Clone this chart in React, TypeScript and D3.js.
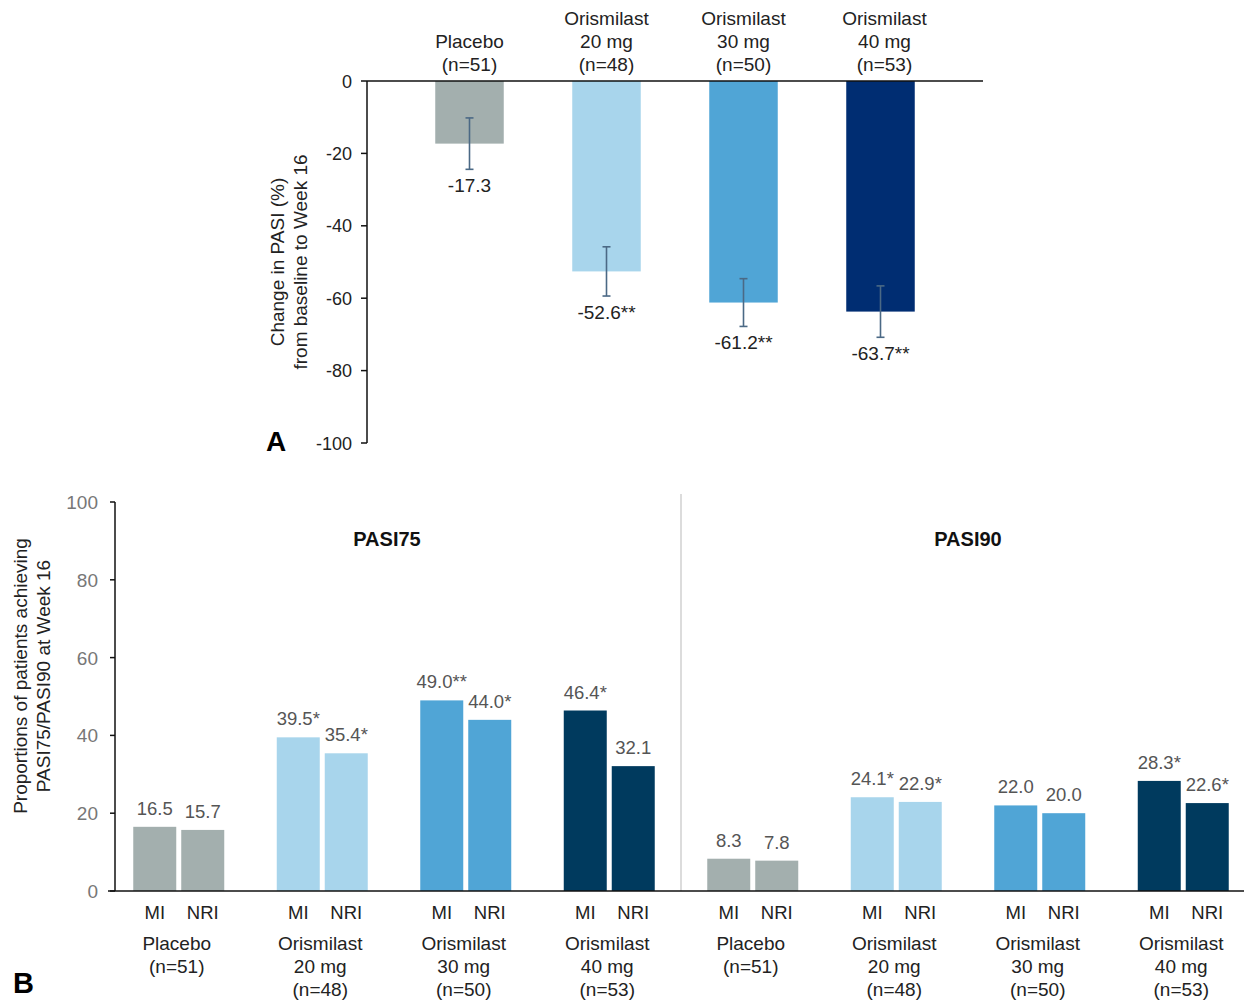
import React from "react";
import * as d3 from "d3";

// ---------- Data ----------
const arms = ["Placebo", "Orismilast 20 mg", "Orismilast 30 mg", "Orismilast 40 mg"];
const armLines = [
  ["Placebo", "(n=51)"],
  ["Orismilast", "20 mg", "(n=48)"],
  ["Orismilast", "30 mg", "(n=50)"],
  ["Orismilast", "40 mg", "(n=53)"],
];
const colorsA = ["#A3AFAE", "#A8D5EC", "#50A5D6", "#002D72"];
const colorsB = ["#A3AFAE", "#A8D5EC", "#50A5D6", "#003A5E"];

// Panel A: % change in PASI
const pasiChange = [-17.3, -52.6, -61.2, -63.7];
const pasiChangeErr = [7.1, 6.8, 6.6, 7.1];
const pasiChangeLabels = ["-17.3", "-52.6**", "-61.2**", "-63.7**"];
const ticksA = [0, -20, -40, -60, -80, -100];

// Panel B: PASI75 / PASI90 responders
const panels = ["PASI75", "PASI90"];
const methods = ["MI", "NRI"];
const pasi75MI = [16.5, 39.5, 49.0, 46.4];
const pasi75NRI = [15.7, 35.4, 44.0, 32.1];
const pasi90MI = [8.3, 24.1, 22.0, 28.3];
const pasi90NRI = [7.8, 22.9, 20.0, 22.6];
const pasi75MILabels = ["16.5", "39.5*", "49.0**", "46.4*"];
const pasi75NRILabels = ["15.7", "35.4*", "44.0*", "32.1"];
const pasi90MILabels = ["8.3", "24.1*", "22.0", "28.3*"];
const pasi90NRILabels = ["7.8", "22.9*", "20.0", "22.6*"];
const ticksB = [0, 20, 40, 60, 80, 100];

const FONT = "'Liberation Sans', Arial, 'DejaVu Sans', sans-serif";

export default function App() {
  // ----- Panel A scales -----
  const axisXA = 367;
  const yA = d3.scaleLinear().domain([0, -100]).range([81, 443]);
  const xA = d3
    .scaleBand<string>()
    .domain(arms)
    .range([401, 949])
    .paddingInner(0.5)
    .paddingOuter(0.25);

  // ----- Panel B scales -----
  const axisXB = 115;
  const yB = d3.scaleLinear().domain([0, 100]).range([891, 502]);
  const xPanel = d3.scaleBand<string>().domain(panels).range([107, 1255]).padding(0);
  const xArm = d3.scaleBand<string>().domain(arms).range([0, xPanel.bandwidth()]).padding(0);
  const xMethod = d3
    .scaleBand<string>()
    .domain(methods)
    .range([0, xArm.bandwidth()])
    .paddingInner(0.104)
    .paddingOuter(0.547);

  const panelData = [
    { key: "PASI75", vals: [pasi75MI, pasi75NRI], labels: [pasi75MILabels, pasi75NRILabels] },
    { key: "PASI90", vals: [pasi90MI, pasi90NRI], labels: [pasi90MILabels, pasi90NRILabels] },
  ];

  return (
    <svg
      width={1244}
      height={1000}
      style={{ position: "absolute", left: 0, top: 0, background: "#fff" }}
      fontFamily={FONT}
    >
      <rect x={0} y={0} width={1244} height={1000} fill="#fff" />

      {/* ================= PANEL A ================= */}
      {arms.map((a, i) => {
        const lines = armLines[i];
        const cx = (xA(a) as number) + xA.bandwidth() / 2 + (i === 3 ? 4 : 0);
        const lastBaseline = 71;
        return (
          <text key={"ta" + a} x={cx} textAnchor="middle" fontSize={19} fill="#222">
            {lines.map((l, j) => (
              <tspan key={j} x={cx} y={lastBaseline - (lines.length - 1 - j) * 23}>
                {l}
              </tspan>
            ))}
          </text>
        );
      })}

      {arms.map((a, i) => (
        <rect
          key={"ba" + a}
          x={xA(a)}
          y={yA(0)}
          width={xA.bandwidth()}
          height={yA(pasiChange[i]) - yA(0)}
          fill={colorsA[i]}
        />
      ))}

      {arms.map((a, i) => {
        const cx = (xA(a) as number) + xA.bandwidth() / 2;
        const top = yA(pasiChange[i] + pasiChangeErr[i]);
        const bot = yA(pasiChange[i] - pasiChangeErr[i]);
        return (
          <g key={"ea" + a} stroke="#4B6985" strokeWidth={1.6}>
            <line x1={cx} x2={cx} y1={top} y2={bot} />
            <line x1={cx - 4} x2={cx + 4} y1={top} y2={top} />
            <line x1={cx - 4} x2={cx + 4} y1={bot} y2={bot} />
          </g>
        );
      })}

      {arms.map((a, i) => {
        const cx = (xA(a) as number) + xA.bandwidth() / 2;
        const bot = yA(pasiChange[i] - pasiChangeErr[i]);
        return (
          <text key={"la" + a} x={cx} y={bot + 23} textAnchor="middle" fontSize={19} fill="#222">
            {pasiChangeLabels[i]}
          </text>
        );
      })}

      <line x1={axisXA} x2={axisXA} y1={yA(0)} y2={yA(-100)} stroke="#111" strokeWidth={1.5} />
      {ticksA.map((t) => (
        <g key={"tka" + t}>
          <line x1={axisXA - 6} x2={axisXA} y1={yA(t)} y2={yA(t)} stroke="#111" strokeWidth={1.5} />
          <text x={axisXA - 15} y={yA(t) + 6.5} textAnchor="end" fontSize={18} fill="#222">
            {t}
          </text>
        </g>
      ))}
      <line x1={axisXA} x2={983} y1={yA(0)} y2={yA(0)} stroke="#111" strokeWidth={1.6} />

      <text transform={`translate(283.5,262) rotate(-90)`} textAnchor="middle" fontSize={19} fill="#222">
        Change in PASI (%)
      </text>
      <text transform={`translate(306.5,262) rotate(-90)`} textAnchor="middle" fontSize={19} fill="#222">
        from baseline to Week 16
      </text>

      <text x={266} y={451} fontSize={28} fontWeight="bold" fill="#000">
        A
      </text>

      {/* ================= PANEL B ================= */}
      <line
        x1={xPanel("PASI90")}
        x2={xPanel("PASI90")}
        y1={494}
        y2={yB(0)}
        stroke="#D0D0D0"
        strokeWidth={1.5}
      />

      {panelData.map((p, pi) => {
        const px = xPanel(p.key) as number;
        return (
          <g key={"pb" + p.key}>
            <text
              x={px + xPanel.bandwidth() / 2 - (pi === 0 ? 7 : 0)}
              y={546}
              textAnchor="middle"
              fontSize={20}
              fontWeight="bold"
              fill="#111"
            >
              {p.key}
            </text>
            {arms.map((a, i) => {
              const gx = px + (xArm(a) as number);
              const gcx = gx + xArm.bandwidth() / 2 - 2;
              const lines = armLines[i];
              return (
                <g key={"g" + a}>
                  {methods.map((m, mi) => {
                    const v = p.vals[mi][i];
                    const bx = gx + (xMethod(m) as number);
                    const bcx = bx + xMethod.bandwidth() / 2;
                    return (
                      <g key={m}>
                        <rect
                          x={bx}
                          y={yB(v)}
                          width={xMethod.bandwidth()}
                          height={yB(0) - yB(v)}
                          fill={colorsB[i]}
                        />
                        <text x={bcx} y={yB(v) - 12} textAnchor="middle" fontSize={18.5} fill="#555">
                          {p.labels[mi][i]}
                        </text>
                        <text x={bcx} y={919} textAnchor="middle" fontSize={18.5} fill="#222">
                          {m}
                        </text>
                      </g>
                    );
                  })}
                  <text x={gcx} textAnchor="middle" fontSize={19} fill="#222">
                    {lines.map((l, j) => (
                      <tspan key={j} x={gcx} y={950 + j * 23}>
                        {l}
                      </tspan>
                    ))}
                  </text>
                </g>
              );
            })}
          </g>
        );
      })}

      <line x1={axisXB} x2={axisXB} y1={yB(100)} y2={yB(0)} stroke="#111" strokeWidth={1.5} />
      {ticksB.map((t) => (
        <g key={"tkb" + t}>
          <line x1={axisXB - 5} x2={axisXB} y1={yB(t)} y2={yB(t)} stroke="#111" strokeWidth={1.5} />
          <text x={axisXB - 17} y={yB(t) + 7} textAnchor="end" fontSize={19} fill="#777">
            {t}
          </text>
        </g>
      ))}
      <line x1={axisXB - 7} x2={1244} y1={yB(0)} y2={yB(0)} stroke="#111" strokeWidth={1.6} />

      <text transform={`translate(26.5,676) rotate(-90)`} textAnchor="middle" fontSize={19} fill="#222">
        Proportions of patients achieving
      </text>
      <text transform={`translate(49.5,676) rotate(-90)`} textAnchor="middle" fontSize={19} fill="#222">
        PASI75/PASI90 at Week 16
      </text>

      <text x={13} y={993} fontSize={29} fontWeight="bold" fill="#000">
        B
      </text>
    </svg>
  );
}
